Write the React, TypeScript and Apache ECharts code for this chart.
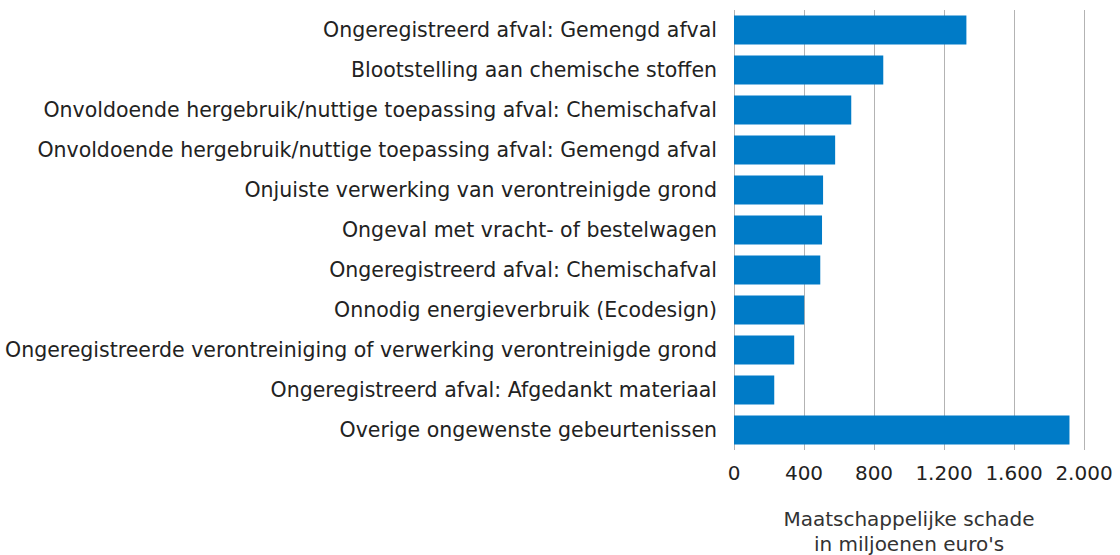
import React, { useEffect, useRef } from "react";
import * as echarts from "echarts";

const categories = [
  "Ongeregistreerd afval: Gemengd afval",
  "Blootstelling aan chemische stoffen",
  "Onvoldoende hergebruik/nuttige toepassing afval: Chemischafval",
  "Onvoldoende hergebruik/nuttige toepassing afval: Gemengd afval",
  "Onjuiste verwerking van verontreinigde grond",
  "Ongeval met vracht- of bestelwagen",
  "Ongeregistreerd afval: Chemischafval",
  "Onnodig energieverbruik (Ecodesign)",
  "Ongeregistreerde verontreiniging of verwerking verontreinigde grond",
  "Ongeregistreerd afval: Afgedankt materiaal",
  "Overige ongewenste gebeurtenissen",
];

const values = [1328, 853, 670, 578, 509, 503, 493, 401, 344, 230, 1917];

const axisTitle = "Maatschappelijke schade\nin miljoenen euro's";

function fmt(v: number): string {
  return v.toLocaleString("nl-NL");
}

export default function App() {
  const ref = useRef<HTMLDivElement>(null);
  useEffect(() => {
    document.body.style.margin = "0";
    const chart = echarts.init(ref.current!, null, { renderer: "svg" });
    chart.setOption({
      animation: false,
      textStyle: { fontFamily: "DejaVu Sans" },
      grid: {
        left: 734,
        right: 36,
        top: 10,
        height: 440,
        containLabel: false,
        outerBoundsMode: "none",
      },
      xAxis: {
        type: "value",
        min: 0,
        max: 2000,
        interval: 400,
        axisLine: { show: false },
        axisTick: { show: false },
        splitLine: { show: true, lineStyle: { color: "#b3b3b3", width: 1 } },
        axisLabel: {
          color: "#222",
          fontSize: 20,
          margin: 13,
          formatter: (v: number) => fmt(v),
        },
        name: axisTitle,
        nameLocation: "middle",
        nameGap: 56,
        nameTextStyle: { color: "#333", fontSize: 20, lineHeight: 25 },
      },
      yAxis: {
        type: "category",
        data: categories,
        inverse: true,
        axisLine: { show: false },
        axisTick: { show: false },
        axisLabel: { color: "#222", fontSize: 20.5, margin: 17 },
      },
      series: [
        {
          type: "bar",
          data: values,
          barCategoryGap: "27%",
          itemStyle: { color: "#007BC7" },
        },
      ],
    });
    return () => chart.dispose();
  }, []);
  return <div ref={ref} style={{ width: 1120, height: 555 }} />;
}
